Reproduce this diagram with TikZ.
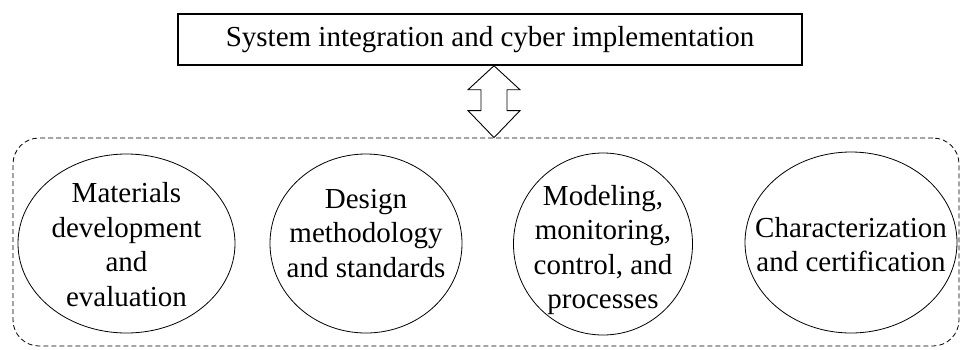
\documentclass[tikz,border=0pt]{standalone}
\usepackage{fontspec}
\setmainfont{Liberation Serif}
\usetikzlibrary{calc,shapes.geometric}
\begin{document}
\begin{tikzpicture}[x=1pt,y=-1pt,
  topbox/.style={draw,line width=1.5pt,minimum width=624pt,minimum height=51pt,inner sep=0pt,font=\fontsize{29}{34.5}\selectfont},
  bubble/.style={draw,ellipse,line width=0.8pt,inner sep=0pt},
  btext/.style={inner sep=0pt,align=center,font=\fontsize{29}{34.5}\selectfont},
  dframe/.style={draw,dashed,dash pattern=on 5pt off 3pt,line width=0.8pt,rounded corners=26pt,inner sep=0pt},
  dblarrow/.style={draw,line width=0.9pt,fill=white}]
\useasboundingbox (0,0) rectangle (964,349);
\node[topbox] (top) at (490,39.5) {System integration and cyber implementation};
\node[dframe,minimum width=946pt,minimum height=208pt] (fr) at (486,242) {};
\node[bubble,minimum width=217pt,minimum height=179pt] (e1) at (126.5,243.5) {};
\node[bubble,minimum width=192pt,minimum height=179pt] (e2) at (366,243.5) {};
\node[bubble,minimum width=179pt,minimum height=182pt] (e3) at (603,244) {};
\node[bubble,minimum width=212pt,minimum height=181pt] (e4) at (851,242.5) {};
\node[btext] (t1) at ($(e1.center)+(0,1)$) {Materials\\development\\and\\evaluation};
\node[btext] (t2) at ($(e2.center)+(0,-10)$) {Design\\methodology\\and standards};
\node[btext] (t3) at ($(e3.center)+(0,6)$) {Modeling,\\monitoring,\\control, and\\processes};
\node[btext] (t4) at ($(e4.center)+(0,2)$) {Characterization\\and certification};
\coordinate (ta) at ($(top.south)+(4,0)$);
\coordinate (tb) at (ta |- fr.north);
\draw[dblarrow] (ta) -- ($(ta)+(26,24)$) -- ($(ta)+(13,24)$) -- ($(tb)+(13,-27)$) -- ($(tb)+(26,-27)$)
  -- (tb) -- ($(tb)+(-26,-27)$) -- ($(tb)+(-13,-27)$) -- ($(ta)+(-13,24)$) -- ($(ta)+(-26,24)$) -- cycle;
\end{tikzpicture}
\end{document}
